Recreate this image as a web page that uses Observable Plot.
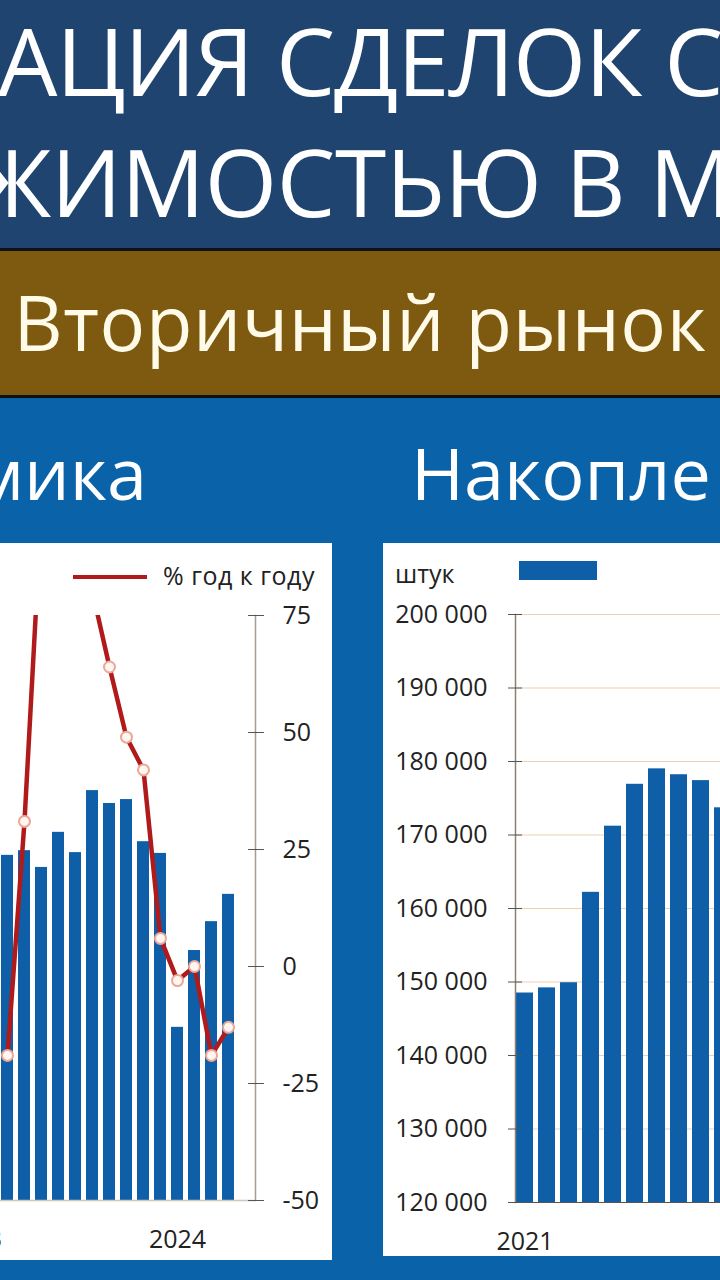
<!DOCTYPE html>
<html><head><meta charset="utf-8">
<script src="https://cdn.jsdelivr.net/npm/d3@7"></script>
<script src="https://cdn.jsdelivr.net/npm/@observablehq/plot@0.6"></script>
<style>
html,body{margin:0;padding:0;}
body{width:720px;height:1280px;overflow:hidden;position:relative;background:#0a63a8;font-family:"Open Sans",sans-serif;}
.band{position:absolute;left:0;width:720px;}
.t{position:absolute;white-space:nowrap;color:#fff;line-height:1;}
.panel{position:absolute;background:#fff;overflow:hidden;}
.panel svg{position:absolute;top:0;max-width:none !important;}
.lg{position:absolute;white-space:nowrap;color:#222;font-size:25px;line-height:1;}
</style></head><body>
<div class="band" style="top:0;height:248px;background:#1e446f"></div>
<div class="band" style="top:248px;height:3px;background:#111"></div>
<div class="band" style="top:251px;height:144px;background:#7d5a10"></div>
<div class="band" style="top:395px;height:3px;background:#111"></div>
<div class="t" style="left:-2px;top:13px;font-size:94px;letter-spacing:-1.2px">АЦИЯ СДЕЛОК С</div>
<div class="t" style="left:-27px;top:135px;font-size:93px;letter-spacing:-0.3px">ЖИМОСТЬЮ В М</div>
<div class="t" style="left:0;width:720px;text-align:center;top:284px;font-size:76px;letter-spacing:0.6px;color:#fffbe8">Вторичный рынок</div>
<div class="t" style="right:573px;top:436px;font-size:72px">мика</div>
<div class="t" style="left:411px;top:436px;font-size:72px">Накопле</div>

<div class="panel" id="left" style="left:0;top:543px;width:332px;height:717px">
  <div style="position:absolute;left:73px;top:32px;width:74px;height:4px;background:#b11a1a"></div>
  <div class="lg" style="left:163px;top:20px;letter-spacing:0.5px">% год к году</div>
</div>
<div class="panel" id="right" style="left:383px;top:543px;width:337px;height:713px">
  <div class="lg" style="left:12px;top:18px">штук</div>
  <div style="position:absolute;left:136px;top:18px;width:78px;height:19px;background:#0e5fa7"></div>
</div>

<script>
// ---- Left chart: monthly deals (bars, hidden left axis) and % year over year (line, right axis)
const monthsLeft = ["2023-01","2023-02","2023-03","2023-04","2023-05","2023-06","2023-07","2023-08","2023-09","2023-10","2023-11","2023-12","2024-01","2024-02","2024-03","2024-04"];
const dealMonths = ["2023-03","2023-04","2023-05","2023-06","2023-07","2023-08","2023-09","2023-10","2023-11","2023-12","2024-01","2024-02","2024-03","2024-04"];
const dealCounts = [8850, 8970, 8540, 9440, 8920, 10510, 10180, 10280, 9200, 8900, 4440, 6410, 7150, 7850];
const yoyPct = [-19, 31, 98, 140, 110, 80, 64, 49, 42, 6, -3, 0, -19, -13];
const yoyTicks = [-50, -25, 0, 25, 50, 75];
const leftYearTicks = ["2023-01", "2024-01"];

// ---- Right chart: accumulated deals
const cumMonths = ["2021-01","2021-02","2021-03","2021-04","2021-05","2021-06","2021-07","2021-08","2021-09","2021-10"];
const cumCounts = [148500, 149200, 149900, 162200, 171200, 176900, 179000, 178200, 177400, 173700];
const cumTicks = [120000, 130000, 140000, 150000, 160000, 170000, 180000, 190000, 200000];
const rightYearTicks = ["2021-01"];

const BAR = "#0e5fa7", RED = "#b11a1a", INK = "#222";
const font = {background: "transparent", fontFamily: "Open Sans", fontSize: "24px", color: INK, maxWidth: "none"};

const dealData = dealMonths.map((m, i) => ({m, v: dealCounts[i]}));
const yoyData = dealMonths.map((m, i) => ({m, v: yoyPct[i]}));
const cumData = cumMonths.map((m, i) => ({m, v: cumCounts[i]}));

const L = {width: 392, height: 717, marginLeft: 26.8, marginRight: 77, marginTop: 72, marginBottom: 60};
const xLeft = {type: "band", domain: monthsLeft, paddingInner: 0.3, paddingOuter: 0.585, align: 0};

const leftBars = Plot.plot({
  ...L, style: font,
  x: {...xLeft},
  y: {domain: [0, 15000], axis: null},
  marks: [
    Plot.barY(dealData, {x: "m", y: "v", fill: BAR}),
    Plot.ruleY([0], {stroke: "#cfc6bb", strokeWidth: 1.5}),
    Plot.axisX({ticks: leftYearTicks, tickSize: 0, tickPadding: 30, tickFormat: d => d.slice(0, 4), label: null, fontSize: 25, fill: INK})
  ]
});
const leftLine = Plot.plot({
  ...L, style: font,
  x: {...xLeft, axis: null},
  y: {domain: [-50, 75]},
  marks: [
    Plot.frame({anchor: "right", stroke: "#a89a8c", strokeWidth: 1.5}),
    Plot.axisY({anchor: "right", ticks: yoyTicks, tickSize: 16, dx: -8, fill: "none", stroke: "#555", label: null}),
    Plot.axisY({anchor: "right", ticks: yoyTicks, tickSize: 0, tickPadding: 27, tickFormat: d => String(d), fontSize: 25, fill: INK, label: null}),
    Plot.lineY(yoyData, {x: "m", y: "v", stroke: RED, strokeWidth: 4.5, clip: true}),
    Plot.dot(yoyData, {x: "m", y: "v", r: 5.5, fill: "#fff6f2", stroke: "#eaa898", strokeWidth: 2, clip: true})
  ]
});
leftBars.style.left = "-60px";
leftLine.style.left = "-60px";
document.getElementById("left").append(leftBars, leftLine);

const rightChart = Plot.plot({
  width: 380, height: 713, marginLeft: 132, marginRight: 32, marginTop: 71, marginBottom: 54,
  style: font,
  x: {type: "band", domain: cumMonths, paddingInner: 0.23, paddingOuter: 0.02},
  y: {domain: [120000, 200000]},
  marks: [
    Plot.gridY({ticks: cumTicks, stroke: "#f0cfae", strokeOpacity: 1}),
    Plot.barY(cumData, {x: "m", y: "v", fill: BAR, clip: true}),
    Plot.frame({anchor: "left", stroke: "#8f7f70", strokeWidth: 1.5}),
    Plot.ruleY([120000], {stroke: "#555", strokeWidth: 1}),
    Plot.axisY({ticks: cumTicks, tickSize: 14, dx: 7, fill: "none", stroke: "#555", label: null}),
    Plot.axisY({ticks: cumTicks, tickSize: 0, tickPadding: 28, tickFormat: d => d3.format(",")(d).replace(/,/g, " "), fontSize: 25, fill: INK, label: null}),
    Plot.axisX({ticks: rightYearTicks, tickSize: 0, tickPadding: 30, tickFormat: d => d.slice(0, 4), label: null, fontSize: 25, fill: INK})
  ]
});
rightChart.style.left = "0px";
document.getElementById("right").append(rightChart);
</script>
</body></html>
